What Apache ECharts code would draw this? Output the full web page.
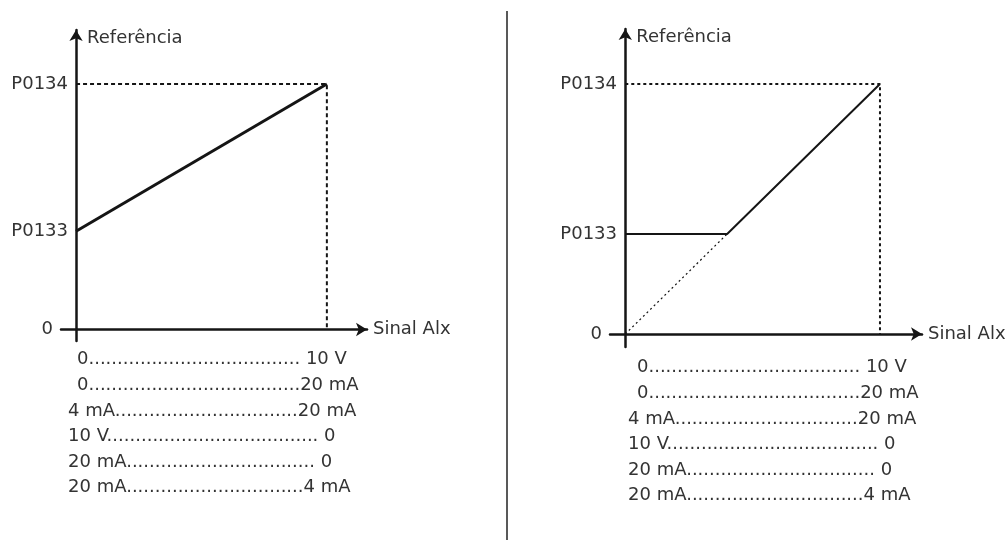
<!DOCTYPE html>
<html>
<head>
<meta charset="utf-8">
<script src="https://cdn.jsdelivr.net/npm/echarts@6/dist/echarts.min.js"></script>
<style>html,body{margin:0;padding:0;background:#fff}#c{width:1007px;height:546px}</style>
</head>
<body>
<div id="c"></div>
<script>
// ---- data ----
const yTickValues = [0, 4, 10];
const yTickLabels = ['0', 'P0133', 'P0134'];
const yName = 'Referência';
const xName = 'Sinal Alx';
const leftCurve = [[0, 4], [10, 10]];
const rightCurve = [[0, 4], [4, 4], [10, 10]];
const rightHidden = [[0, 0], [4, 4]];
const guide = [[0, 10], [10, 10], [10, 0]];
const tableRows = [
  '\u2002' + '0' + '.'.repeat(37) + ' 10 V',
  '\u2002' + '0' + '.'.repeat(37) + '20 mA',
  '4 mA' + '.'.repeat(32) + '20 mA',
  '10 V' + '.'.repeat(37) + ' 0',
  '20 mA' + '.'.repeat(33) + ' 0',
  '20 mA' + '.'.repeat(31) + '4 mA'
];

const FONT = 'DejaVu Sans';
const FS = 18;
const TXT = '#333333';
const INK = '#151515';

function yLabelFmt(v) {
  const i = yTickValues.indexOf(v);
  if (i < 0) return '';
  return v === 0 ? '{z|' + yTickLabels[i] + '}' : yTickLabels[i];
}

function makeX(idx, min, max) {
  return {
    gridIndex: idx, type: 'value', min: min, max: max,
    name: xName, nameLocation: 'end', nameGap: 6,
    nameTextStyle: { fontFamily: FONT, fontSize: FS, color: TXT, align: 'left', verticalAlign: 'middle' },
    axisLine: { show: true, onZero: true, symbol: ['none', 'arrow'], symbolSize: [10, 11], lineStyle: { color: INK, width: 2.5 } },
    axisTick: { show: false }, axisLabel: { show: false }, splitLine: { show: false }
  };
}
function makeY(idx, min, max, pad) {
  return {
    gridIndex: idx, type: 'value', min: min, max: max,
    name: yName, nameLocation: 'end', nameGap: -8,
    nameTextStyle: { fontFamily: FONT, fontSize: FS, color: TXT, align: 'left', verticalAlign: 'middle', padding: [0, 0, 0, 11] },
    axisLine: { show: true, onZero: true, symbol: ['none', 'arrow'], symbolSize: [10, 11], lineStyle: { color: INK, width: 2.5 } },
    axisTick: { show: false },
    axisLabel: {
      show: true, customValues: yTickValues, formatter: yLabelFmt, margin: -7,
      fontFamily: FONT, fontSize: FS, color: TXT,
      rich: { z: { fontFamily: FONT, fontSize: FS, color: TXT, padding: [0, pad, 0, 0] } }
    },
    splitLine: { show: false }
  };
}
function lineSeries(idx, data, width, type) {
  return {
    type: 'line', xAxisIndex: idx, yAxisIndex: idx, data: data,
    symbol: 'none', silent: true, animation: false,
    lineStyle: { color: INK, width: width, type: type }
  };
}

const chart = echarts.init(document.getElementById('c'), null, { renderer: 'canvas' });
chart.setOption({
  animation: false,
  backgroundColor: '#ffffff',
  title: [
    { text: tableRows.join('\n'), left: 63, top: 342,
      textStyle: { fontFamily: FONT, fontSize: FS, fontWeight: 'normal', color: TXT, lineHeight: 25.6 } },
    { text: tableRows.join('\n'), left: 623, top: 350,
      textStyle: { fontFamily: FONT, fontSize: FS, fontWeight: 'normal', color: TXT, lineHeight: 25.6 } }
  ],
  grid: [
    { left: 61, top: 30, width: 306, height: 311, outerBoundsMode: 'none', containLabel: false },
    { left: 610, top: 29, width: 312, height: 318, outerBoundsMode: 'none', containLabel: false }
  ],
  xAxis: [makeX(0, -0.6, 11.6), makeX(1, -0.6, 11.65)],
  yAxis: [makeY(0, -0.47, 12.2, 15), makeY(1, -0.52, 12.2, 15)],
  series: [
    lineSeries(0, guide, 2, [4, 3]),
    lineSeries(0, leftCurve, 3, 'solid'),
    lineSeries(1, guide, 2, [3, 3]),
    lineSeries(1, rightHidden, 1.2, [2, 3]),
    lineSeries(1, rightCurve, 2, 'solid')
  ],
  graphic: [
    { type: 'line', shape: { x1: 507, y1: 11, x2: 507, y2: 540 }, style: { stroke: '#222', lineWidth: 1.5 }, silent: true }
  ]
});
</script>
</body>
</html>
